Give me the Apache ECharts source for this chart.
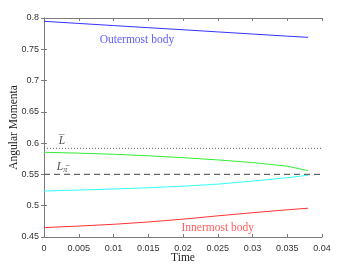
<!DOCTYPE html>
<html><head><meta charset="utf-8">
<script src="https://cdn.jsdelivr.net/npm/echarts@6/dist/echarts.min.js"></script>
<style>html,body{margin:0;padding:0;background:#fff}#c{width:354px;height:264px}</style>
</head><body><div id="c"></div>
<script>
var time = [0, 0.005, 0.01, 0.015, 0.02, 0.025, 0.03, 0.035, 0.038];
var outermost = [0.7947, 0.7913, 0.7879, 0.7845, 0.7812, 0.7778, 0.7744, 0.7710, 0.7691];
var second = [0.5854, 0.5840, 0.5822, 0.5798, 0.5768, 0.5732, 0.5690, 0.5632, 0.5560];
var third = [0.5235, 0.5250, 0.5267, 0.5287, 0.5312, 0.5345, 0.5393, 0.5448, 0.5486];
var innermost = [0.4650, 0.4675, 0.4703, 0.4740, 0.4785, 0.4838, 0.4888, 0.4935, 0.4960];
var Lbar = 0.5917;
var Lpi = 0.55;
var xTicks = [0, 0.005, 0.01, 0.015, 0.02, 0.025, 0.03, 0.035, 0.04];
var yTicks = [0.45, 0.5, 0.55, 0.6, 0.65, 0.7, 0.75, 0.8];
var annotations = [
  {name: 'Outermost body', t: 0.01337, v: 0.7648, color: '#3333ff'},
  {name: 'Innermost body', t: 0.025, v: 0.4644, color: '#ff3333'},
  {name: 'L\u0305', t: 0.0026, v: 0.6034, color: '#222'},
  {name: 'L', sub: '\u03c0\u0305', t: 0.0026, v: 0.5619, color: '#222'}
];

function pair(xs, ys){ return xs.map(function(x,i){ return [x, ys[i]]; }); }
var chart = echarts.init(document.getElementById('c'));
var axisCommon = {
  axisLine: {show: true, lineStyle: {color: '#7a7a7a', width: 1}},
  axisTick: {show: true, inside: true, length: 3, lineStyle: {color: '#7a7a7a'}},
  splitLine: {show: false}
};
var serif = 'Liberation Serif';
chart.setOption({
  animation: false,
  grid: {left: 44, right: 32, top: 18, bottom: 27, containLabel: false, outerBoundsMode: 'none'},
  xAxis: [
    Object.assign({type: 'value', min: xTicks[0], max: xTicks[xTicks.length-1], interval: 0.005,
      name: 'Time', nameLocation: 'middle', nameGap: 21, nameMoveOverlap: false,
      nameTextStyle: {fontFamily: serif, fontSize: 11.5, color: '#222', verticalAlign: 'middle'},
      axisLabel: {fontFamily: 'Liberation Sans', fontSize: 9, color: '#333', margin: 7,
        formatter: function(v){ return String(+v.toFixed(4)); }}}, axisCommon),
    Object.assign({type: 'value', position: 'top', min: 0, max: 0.04, interval: 0.005, axisLabel: {show: false}}, axisCommon)
  ],
  yAxis: [
    Object.assign({type: 'value', min: yTicks[0], max: yTicks[yTicks.length-1], interval: 0.05,
      name: 'Angular Momenta', nameLocation: 'middle', nameGap: 30, nameMoveOverlap: false,
      nameTextStyle: {fontFamily: serif, fontSize: 11.5, color: '#222', verticalAlign: 'middle'},
      axisLabel: {fontFamily: 'Liberation Sans', fontSize: 9, color: '#333', margin: 5,
        formatter: function(v){ return String(+v.toFixed(3)); }}}, axisCommon),
    Object.assign({type: 'value', position: 'right', min: 0.45, max: 0.8, interval: 0.05, axisLabel: {show: false}}, axisCommon)
  ],
  series: [
    {type: 'line', data: pair(time, outermost), showSymbol: false, lineStyle: {color: '#3333ff', width: 1}},
    {type: 'line', data: pair(time, second), showSymbol: false, lineStyle: {color: '#33ee33', width: 1}},
    {type: 'line', data: pair(time, third), showSymbol: false, lineStyle: {color: '#33ffff', width: 1}},
    {type: 'line', data: pair(time, innermost), showSymbol: false, lineStyle: {color: '#ff3333', width: 1}},
    {type: 'line', data: [[0, Lbar], [0.04, Lbar]], showSymbol: false, lineStyle: {color: '#555', width: 1, type: [1, 2]}},
    {type: 'line', data: [[0, Lpi], [0.04, Lpi]], showSymbol: false, lineStyle: {color: '#666', width: 1.2, type: [6, 4]}},
    {type: 'scatter', symbolSize: 0, silent: true,
      data: annotations.map(function(a){ return {value: [a.t, a.v], name: a.name,
        label: {show: true, position: 'inside', color: a.color, fontFamily: serif, fontSize: 11.5,
          fontStyle: a.name.length < 4 ? 'italic' : 'normal',
          formatter: a.sub ? '{m|L}{s|' + a.sub + '}' : a.name,
          rich: {m: {fontFamily: serif, fontSize: 11.5, fontStyle: 'italic', color: a.color},
                 s: {fontFamily: serif, fontSize: 8, fontStyle: 'italic', color: a.color, padding: [5, 0, 0, 0]}}}}; })}
  ]
});
</script></body></html>
